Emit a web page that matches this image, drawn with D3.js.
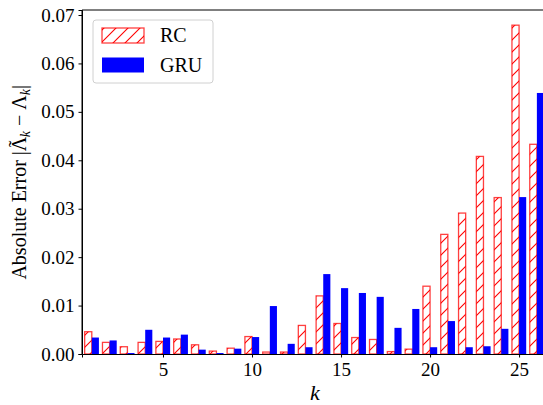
<!DOCTYPE html>
<html><head><meta charset="utf-8">
<script src="https://cdn.jsdelivr.net/npm/d3@7"></script>
<style>body{margin:0;background:#fff}svg{display:block}</style>
</head><body>
<script>
const ks = d3.range(1, 27);
const rcValues = [0.0046,0.0024,0.0015,0.0024,0.0026,0.0031,0.0019,0.0006,0.0012,0.0036,
  0.0004,0.0004,0.0059,0.0120,0.0063,0.0034,0.0030,0.0005,0.0010,0.0140,
  0.0247,0.0291,0.0408,0.0323,0.0679,0.0433];
const gruValues = [0.0034,0.0028,0.0002,0.0050,0.0034,0.0040,0.0009,0.0002,0.0011,0.0035,
  0.0099,0.0021,0.0014,0.0165,0.0136,0.0126,0.0118,0.0054,0.0093,0.0014,
  0.0068,0.0014,0.0016,0.0052,0.0324,0.0539];
const xTicks = [5, 10, 15, 20, 25];
const yTicks = [0, 0.01, 0.02, 0.03, 0.04, 0.05, 0.06, 0.07];
const seriesNames = ["RC", "GRU"];

const W = 543, H = 405;
const L = 82, R = 544, T = 10, B = 354;
const font = "'Liberation Serif', 'DejaVu Serif', serif";

const svg = d3.select("body").append("svg").attr("width", W).attr("height", H);
const defs = svg.append("defs");
const pat = defs.append("pattern").attr("id", "hatch").attr("patternUnits", "userSpaceOnUse")
  .attr("width", 12).attr("height", 12);
pat.append("path").attr("d", "M-3,3 L3,-3 M0,12 L12,0 M9,15 L15,9")
  .attr("stroke", "#ff0000").attr("stroke-width", 1.1);

const x = d3.scaleLinear().domain([0.45, 26.4]).range([L, R]);
const y = d3.scaleLinear().domain([0, 0.07 * (B - T) / (B - 15)]).range([B, T]);

const bw = x(0.4) - x(0);
const g = svg.append("g");

g.selectAll("rect.rc").data(rcValues).enter().append("rect").attr("class", "rc")
  .attr("x", (d, i) => x(ks[i] - 0.4)).attr("width", bw)
  .attr("y", d => y(d)).attr("height", d => y(0) - y(d))
  .attr("fill", "url(#hatch)").attr("stroke", "rgba(255,0,0,0.75)").attr("stroke-width", 1.3);

g.selectAll("rect.gru").data(gruValues).enter().append("rect").attr("class", "gru")
  .attr("x", (d, i) => x(ks[i])).attr("width", bw)
  .attr("y", d => y(d)).attr("height", d => y(0) - y(d))
  .attr("fill", "#0000ff");

svg.append("line").attr("x1", L).attr("x2", W).attr("y1", T).attr("y2", T).attr("stroke", "#000").attr("stroke-width", 1);
svg.append("line").attr("x1", L).attr("x2", L).attr("y1", T).attr("y2", B).attr("stroke", "#000").attr("stroke-width", 1);

const xAxis = svg.append("g").attr("transform", `translate(0,${B})`)
  .call(d3.axisBottom(x).tickValues(xTicks).tickFormat(d3.format("d")).tickSizeOuter(0).tickSize(3.5).tickPadding(5));
const yAxis = svg.append("g").attr("transform", `translate(${L},0)`)
  .call(d3.axisLeft(y).tickValues(yTicks).tickFormat(d3.format(".2f")).tickSizeOuter(0).tickSize(3.5).tickPadding(4));
[xAxis, yAxis].forEach(a => {
  a.selectAll("text").attr("font-family", font).attr("font-size", 19).attr("fill", "#000");
  a.selectAll("line").attr("stroke", "#000");
  a.select(".domain").attr("stroke", "#000");
});

svg.append("text").attr("x", 315).attr("y", 400).attr("text-anchor", "middle")
  .attr("font-family", font).attr("font-size", 22).attr("font-style", "italic").text("k");

// y label with tilde placed over Lambda
const yl = svg.append("text").attr("transform", `translate(26,${(T + B) / 2}) rotate(-90)`)
  .attr("text-anchor", "start").attr("font-family", font).attr("font-size", 20);
const t1 = yl.append("tspan").text("Absolute Error |\u039B");
const tl = yl.append("tspan").attr("dy", -3).text("\u02DC");
const s1 = yl.append("tspan").attr("font-style", "italic").attr("font-size", 14).text("k");
yl.append("tspan").attr("dy", -4).text(" \u2212 \u039B");
yl.append("tspan").attr("font-style", "italic").attr("font-size", 14).attr("dy", 4).text("k");
yl.append("tspan").attr("dy", -4).text("|");
// position tilde centered over the Lambda
{
  const n = t1.text().length;
  const lamW = yl.node().getSubStringLength(n - 1, 1);
  const tilW = yl.node().getSubStringLength(n, 1);
  tl.attr("dx", -(lamW + tilW) / 2);
  s1.attr("dx", (lamW - tilW) / 2 - 0.5).attr("dy", 7);
  const total = yl.node().getComputedTextLength() - tilW;
  yl.attr("x", -total / 2);
}

const lg = svg.append("g");
lg.append("rect").attr("x", 93).attr("y", 20).attr("width", 120).attr("height", 63).attr("rx", 3)
  .attr("fill", "rgba(255,255,255,0.8)").attr("stroke", "#d0d0d0").attr("stroke-width", 1);
lg.append("rect").attr("x", 102).attr("y", 28).attr("width", 42).attr("height", 15)
  .attr("fill", "url(#hatch)").attr("stroke", "rgba(255,0,0,0.75)").attr("stroke-width", 1.3);
lg.append("rect").attr("x", 102).attr("y", 57.5).attr("width", 42).attr("height", 15).attr("fill", "#0000ff");
lg.selectAll("text.lt").data(seriesNames).enter().append("text").attr("class", "lt")
  .attr("x", 160).attr("y", (d, i) => 42 + i * 30)
  .attr("font-family", font).attr("font-size", 20).text(d => d);
</script>
</body></html>
